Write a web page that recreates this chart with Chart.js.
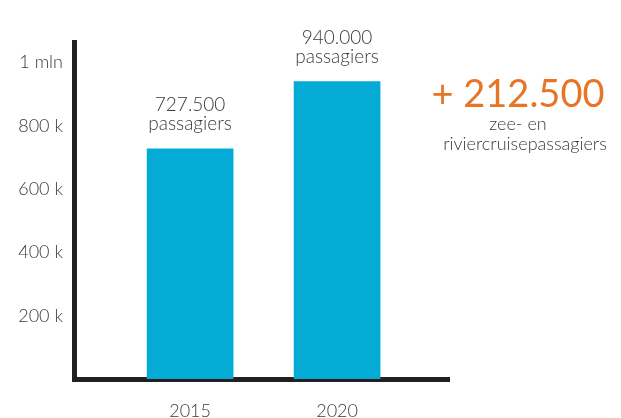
<!DOCTYPE html>
<html>
<head>
<meta charset="utf-8">
<script src="https://cdn.jsdelivr.net/npm/chart.js@4"></script>
<style>
  html, body { margin: 0; padding: 0; background: #fff; }
  #wrap { width: 621px; height: 418px; }
</style>
</head>
<body>
<div id="wrap"><canvas id="chart" width="621" height="418"></canvas></div>
<script>
// data
var years = [2015, 2020];
var passengers = [727500, 940000];
var barLabels = ['727.500', '940.000'];
var yTickValues = [200000, 400000, 600000, 800000, 1000000];
var yTickLabels = ['200 k', '400 k', '600 k', '800 k', '1 mln'];
var growthText = '+ 212.500';
var growthNote = ['zee- en', 'riviercruisepassagiers'];

var textColor = '#3a3a3a';
var barColor = '#04abd5';
var orange = '#e87425';
var font = 'Lato, "Noto Sans", sans-serif';

// text above each bar: value + "passagiers"
var barText = {
  id: 'barText',
  afterDatasetsDraw: function(chart) {
    var ctx = chart.ctx;
    var meta = chart.getDatasetMeta(0);
    ctx.save();
    ctx.fillStyle = textColor;
    ctx.textAlign = 'center';
    ctx.textBaseline = 'alphabetic';
    ctx.font = '300 19px ' + font;
    meta.data.forEach(function(bar, i) {
      ctx.fillText('passagiers', bar.x, bar.y - 19);
      ctx.fillText(barLabels[i], bar.x, bar.y - 38);
    });
    ctx.restore();
  }
};

// the orange annotation on the right
var growth = {
  id: 'growth',
  afterDraw: function(chart) {
    var ctx = chart.ctx;
    ctx.save();
    ctx.textAlign = 'center';
    ctx.textBaseline = 'alphabetic';
    ctx.fillStyle = orange;
    ctx.font = '38px ' + font;
    ctx.fillText(growthText, 518, 107);
    ctx.fillStyle = textColor;
    ctx.font = '300 18px ' + font;
    ctx.fillText(growthNote[0], 518, 130);
    ctx.fillText(growthNote[1], 525, 150);
    ctx.restore();
  }
};

new Chart(document.getElementById('chart'), {
  type: 'bar',
  data: {
    datasets: [{
      data: years.map(function(y, i) { return { x: y, y: passengers[i] }; }),
      backgroundColor: barColor,
      borderWidth: 0,
      barThickness: 86
    }]
  },
  options: {
    responsive: false,
    animation: false,
    layout: { padding: { left: 0, right: 174, top: 42, bottom: 0 } },
    plugins: {
      legend: { display: false },
      tooltip: { enabled: false }
    },
    scales: {
      x: {
        type: 'linear',
        offset: false,
        min: 2011.05,
        max: 2023.74,
        z: 1,
        grid: { display: false, lineWidth: 5 },
        border: { display: true, color: '#231f20', width: 5 },
        afterBuildTicks: function(scale) {
          scale.ticks = years.map(function(v) { return { value: v }; });
        },
        afterFit: function(scale) { scale.height = 39; },
        ticks: {
          padding: 13,
          color: textColor,
          font: { family: font, size: 18, weight: '300' },
          callback: function(v) { return String(v); }
        }
      },
      y: {
        min: 0,
        max: 1065000,
        z: 1,
        grid: { display: false, lineWidth: 5 },
        border: { display: true, color: '#231f20', width: 5 },
        afterBuildTicks: function(scale) {
          scale.ticks = yTickValues.map(function(v) { return { value: v }; });
        },
        afterFit: function(scale) { scale.width = 74; },
        ticks: {
          padding: 3,
          color: textColor,
          font: { family: font, size: 18, weight: '300' },
          callback: function(v) {
            var i = yTickValues.indexOf(v);
            return i < 0 ? '' : yTickLabels[i];
          }
        }
      }
    }
  },
  plugins: [barText, growth]
});
</script>
</body>
</html>
